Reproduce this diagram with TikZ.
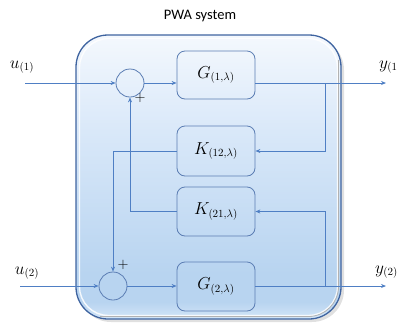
\documentclass[tikz,border=0pt]{standalone}
\usepackage{fontspec}
\newfontfamily\titlefont{Carlito}
\usetikzlibrary{arrows.meta,calc}

\definecolor{wire}{HTML}{4F7FC4}
\definecolor{blockline}{HTML}{5B7DB3}
\definecolor{panelline}{HTML}{3F64A0}
\definecolor{pTop}{HTML}{F4F8FD}
\definecolor{pMid}{HTML}{D9E8F9}
\definecolor{pLow}{HTML}{B8D4F0}
\definecolor{pBot}{HTML}{D4E6F8}

% vertical glass-like fill of the enclosing panel (0bp = bottom)
\pgfdeclareverticalshading{panelfill}{100bp}{%
  color(0bp)=(pBot); color(25bp)=(pBot); color(28bp)=(pLow);
  color(33bp)=(pLow); color(58bp)=(pMid); color(75bp)=(pTop); color(100bp)=(pTop)}

\tikzset{
  arr/.style={draw=wire, line width=0.8pt, -{Stealth[length=5pt,width=4pt]}},
  block/.style={draw=blockline, line width=0.8pt, rounded corners=8pt,
    minimum width=78pt, minimum height=49pt, inner sep=0pt,
    font=\fontsize{16}{19}\selectfont},
  summer/.style={circle, draw=blockline, line width=0.8pt, minimum size=28pt, inner sep=0pt},
  sig/.style={font=\fontsize{16}{19}\selectfont, inner sep=0pt},
  plus/.style={font=\fontsize{15}{18}\selectfont, inner sep=0pt}
}

\begin{document}
\begin{tikzpicture}[x=1pt,y=-1pt]
\useasboundingbox (0,0) rectangle (397,322);

% enclosing panel with a soft shadow and an inner highlight
\fill[black!35, opacity=0.35, rounded corners=32pt] (79,38) rectangle (344,322);
\path[shading=panelfill, rounded corners=32pt] (76,35) rectangle (341,319);
\draw[white, opacity=0.85, line width=1.4pt, rounded corners=29pt] (79.5,38.5) rectangle (337.5,315.5);
\draw[black!30, line width=0.8pt, rounded corners=30pt] (338.5,60) -- (338.5,316.5) -- (100,316.5);
\draw[panelline, line width=1.3pt, rounded corners=32pt] (76,35) rectangle (341,319);

\node[font=\titlefont\fontsize{14.5}{17}\selectfont] (title) at (200,16) {PWA system};

% summing junctions
\node[summer] (s1) at (130,83) {};
\node[summer] (s2) at (113,286) {};

% blocks
\node[block, minimum height=48pt] (G1) at (216,75) {$G_{(1,\lambda)}$};
\node[block, minimum height=50pt] (K12) at (216,151) {$K_{(12,\lambda)}$};
\node[block] (K21) at (216,211.5) {$K_{(21,\lambda)}$};
\node[block] (G2) at (216,286.5) {$G_{(2,\lambda)}$};

% signal labels
\node[sig] (u1) at (22,67) {$u_{(1)}$};
\node[sig] (u2) at (27,273) {$u_{(2)}$};
\node[sig, anchor=west] (y1) at (379,67) {$y_{(1)}$};
\node[sig, anchor=west] (y2) at (375,272) {$y_{(2)}$};
\node[plus] (p1) at (140,98) {$+$};
\node[plus] (p2) at (123,265) {$+$};

% free ends of the signal lines
\coordinate (u1in) at (25,83);
\coordinate (u2in) at (20,286);
\coordinate (y1out) at (386,83);
\coordinate (y2out) at (386,286);
\coordinate (tap1) at (325,83);
\coordinate (tap2) at (325,286);

% forward paths
\draw[arr] (u1in) -- (s1.west);
\draw[arr] (s1.east) -- (s1.east -| G1.west);
\draw[arr] (G1.east |- s1) -- (y1out);
\draw[arr] (u2in) -- (s2.west);
\draw[arr] (s2.east) -- (G2.west |- s2);
\draw[arr] (G2.east |- s2) -- (y2out);

% coupling paths
\draw[arr] (tap1) |- (K12.east);
\draw[arr] (K12.west) -| (s2.north);
\draw[arr] (tap2) |- (K21.east);
\draw[arr] (K21.west) -| (s1.south);
\end{tikzpicture}
\end{document}
